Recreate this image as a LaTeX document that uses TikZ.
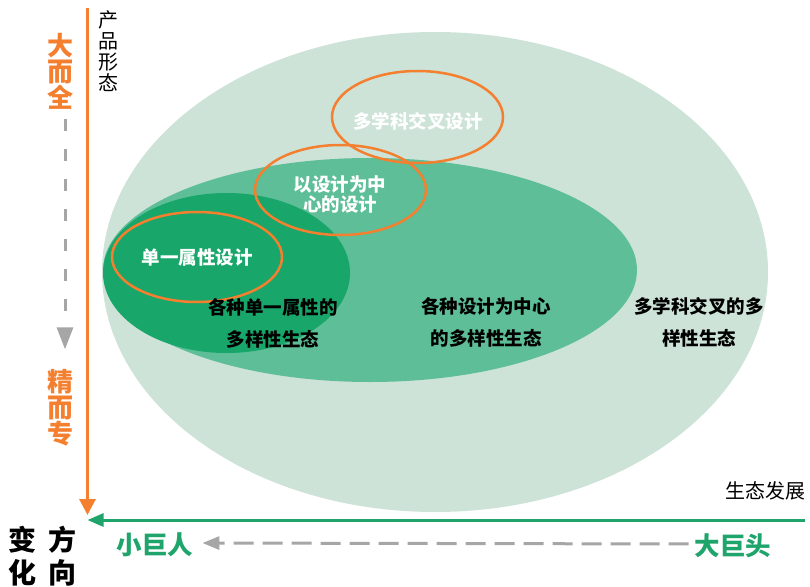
\documentclass[tikz,border=0pt]{standalone}
\usepackage{fontspec}
\setmainfont{Noto Sans CJK SC}
\usetikzlibrary{arrows.meta}
\definecolor{paleg}{HTML}{CDE3D8}
\definecolor{midg}{HTML}{5DBE97}
\definecolor{deepg}{HTML}{18A66A}
\definecolor{axisg}{HTML}{1FA56C}
\definecolor{oran}{HTML}{F47F2E}
\definecolor{dgray}{HTML}{A6A6A6}
\begin{document}
\begin{tikzpicture}[x=1pt, y=-1pt, every node/.style={inner sep=0pt, align=center},
    eco/.style={font=\fontsize{18.5}{32}\selectfont\bfseries},
    inner/.style={font=\fontsize{18.5}{20}\selectfont\bfseries, text=white},
    ring/.style={draw=oran, line width=2.5pt},
    pole/.style={font=\fontsize{26}{26}\selectfont\bfseries, text=oran},
    ends/.style={font=\fontsize{25.5}{26}\selectfont\bfseries, text=axisg},
    axname/.style={font=\fontsize{20}{21}\selectfont},
    trend/.style={dgray, line width=3pt}]
  \useasboundingbox (0,0) rectangle (810,586);
  \fill[paleg] (435,272) ellipse [x radius=333pt, y radius=240pt];
  \fill[midg] (370,270) ellipse [x radius=267pt, y radius=112pt];
  \fill[deepg] (226.5,273) ellipse [x radius=123.5pt, y radius=80pt];
  \draw[ring] (197,257) ellipse [x radius=85pt, y radius=45pt];
  \draw[ring] (340.5,190) ellipse [x radius=85.5pt, y radius=45pt];
  \draw[ring] (417.5,117) ellipse [x radius=85.5pt, y radius=46pt];
  \node[inner] (single) at (197,258) {单一属性设计};
  \node[inner] (centred) at (340,195) {以设计为中\\心的设计};
  \node[inner] (cross) at (418,121) {多学科交叉设计};
  \node[eco] (ecoA) at (273,323) {各种单一属性的\\多样性生态};
  \node[eco] (ecoB) at (486,322) {各种设计为中心\\的多样性生态};
  \node[eco] (ecoC) at (699,322) {多学科交叉的多\\样性生态};
  % axes
  \coordinate (top) at (87.5,8);
  \coordinate (right) at (805,520);
  \coordinate (origin) at (87.5,520);
  \draw[oran, line width=3pt, shorten >=5pt, -{Triangle[length=16pt,width=16pt]}] (top) -- (origin);
  \draw[axisg, line width=3pt, -{Triangle[length=16pt,width=13pt]}] (right) -- (origin);
  \node[axname] (form) at (108,51) {产\\品\\形\\态};
  \node[axname] (growth) at (765,491) {生态发展};
  \node[pole] (whole) at (60,71) {大\\而\\全};
  \node[pole] (fine) at (60,408) {精\\而\\专};
  \draw[trend, dash pattern=on 12pt off 18pt, shorten <=10pt, shorten >=20pt,
    -{Triangle[length=22pt,width=16pt]}] ([xshift=5pt]whole.south) -- ([xshift=5pt]fine.north);
  \node[ends] (giant) at (155,545) {小巨人};
  \node[ends] (head) at (733,546) {大巨头};
  \draw[trend, dash pattern=on 20pt off 9pt, shorten <=6pt, shorten >=9pt,
    -{Triangle[length=17pt,width=13pt]}] ([yshift=2pt]head.west) -- ([yshift=2pt]giant.east);
  \node[font=\fontsize{28}{33}\selectfont\bfseries] (chg) at (22.5,556) {变\\化};
  \node[font=\fontsize{28}{33}\selectfont\bfseries] (dir) at (62,556) {方\\向};
\end{tikzpicture}
\end{document}
